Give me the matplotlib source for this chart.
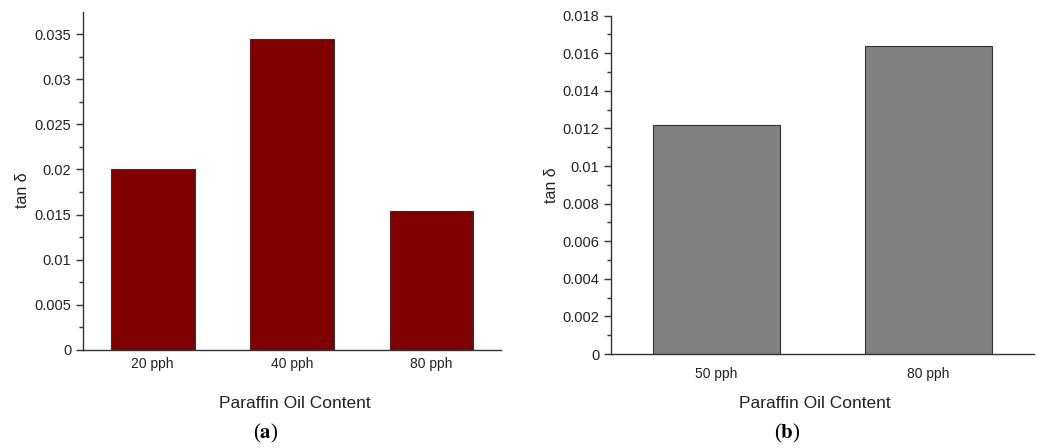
import matplotlib
matplotlib.use('Agg')
import matplotlib.pyplot as plt
from matplotlib.ticker import MultipleLocator

plt.rcParams['font.family'] = ['Liberation Sans', 'DejaVu Sans']
plt.rcParams['mathtext.fontset'] = 'stix'

# tan delta vs paraffin oil content
labels_a = ['20 pph', '40 pph', '80 pph']
tan_a = [0.0201, 0.0345, 0.0154]

labels_b = ['50 pph', '80 pph']
tan_b = [0.0122, 0.0164]

TXT = '#222222'
EDGE = '#333333'


def style_axis(ax, major, ylim, xn):
    ax.set_xlim(0.5, xn + 0.5)
    ax.set_ylim(*ylim)
    ax.yaxis.set_major_locator(MultipleLocator(major))
    ax.yaxis.set_minor_locator(MultipleLocator(major / 2))
    for s in ['top', 'right']:
        ax.spines[s].set_visible(False)
    for s in ['left', 'bottom']:
        ax.spines[s].set_color(EDGE)
        ax.spines[s].set_linewidth(1.0)
    ax.tick_params(axis='y', which='major', direction='out', length=5,
                   width=1, color=EDGE, labelsize=10.5, labelcolor=TXT)
    ax.tick_params(axis='y', which='minor', direction='out', length=3,
                   width=1, color=EDGE)
    ax.tick_params(axis='x', length=0, labelsize=10, labelcolor=TXT)
    ax.yaxis.set_major_formatter(lambda v, p: f'{v:g}')


fig = plt.figure(figsize=(10.39, 4.48), dpi=100)

ax1 = fig.add_axes([0.0799, 0.2188, 0.4024, 0.7544])
pos_a = range(1, len(labels_a) + 1)
ax1.bar(pos_a, tan_a, width=0.6, color='#800000', edgecolor=EDGE, linewidth=0.8)
ax1.set_xticks(list(pos_a))
ax1.set_xticklabels(labels_a)
style_axis(ax1, 0.005, (0, 0.03745), len(labels_a))
ax1.tick_params(axis='x', pad=5)

ax2 = fig.add_axes([0.588, 0.2098, 0.407, 0.7552])
pos_b = range(1, len(labels_b) + 1)
ax2.bar(pos_b, tan_b, width=0.6, color='#808080', edgecolor=EDGE, linewidth=0.8)
ax2.set_xticks(list(pos_b))
ax2.set_xticklabels(labels_b)
style_axis(ax2, 0.002, (0, 0.018), len(labels_b))
ax2.tick_params(axis='x', pad=9)

# axis titles and panel captions
fig.text(0.022, 0.576, 'tan δ', rotation=90, ha='center', va='center',
         fontsize=11.5, color=TXT)
fig.text(0.531, 0.587, 'tan δ', rotation=90, ha='center', va='center',
         fontsize=11.5, color=TXT)
fig.text(0.284, 0.100, 'Paraffin Oil Content', ha='center', va='center',
         fontsize=12.5, color=TXT)
fig.text(0.7844, 0.100, 'Paraffin Oil Content', ha='center', va='center',
         fontsize=12.5, color=TXT)
fig.text(0.256, 0.033, r'($\mathbf{a}$)', ha='center', va='center',
         fontsize=15, family='Liberation Serif', color='black')
fig.text(0.758, 0.033, r'($\mathbf{b}$)', ha='center', va='center',
         fontsize=15, family='Liberation Serif', color='black')

fig.savefig('out.png', dpi=100)
